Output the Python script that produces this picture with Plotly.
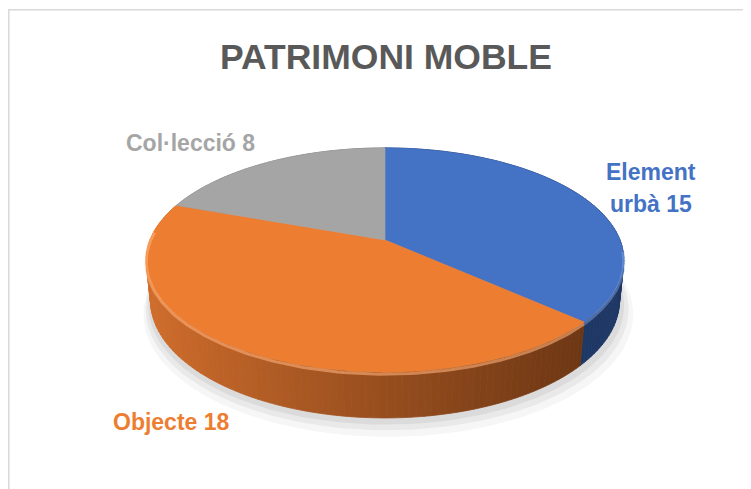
import numpy as np
import plotly.graph_objects as go

# ---- data ----
title_text = "PATRIMONI MOBLE"
labels = ["Element urbà", "Objecte", "Col·lecció"]
values = [15, 18, 8]

# ---- styling ----
top_colors = ["#4472C4", "#ED7D31", "#A5A5A5"]
side_light = ["#2E5597", "#D06D2C", "#8C8C8C"]
side_dark = ["#1E3764", "#6A3513", "#6A6A6A"]
rim_colors = ["rgba(140,170,230,0.45)", "rgba(255,175,120,0.6)", "rgba(210,210,210,0.5)"]
label_colors = ["#4472C4", "#ED7D31", "#A5A5A5"]
FONT = "Liberation Sans"

W, H_PX = 751, 489
OFF = 8  # page body margin in the browser
# pie geometry (pixel space) with a simple perspective camera
CX, CY, S = 385.0, 240.0, 235.0
DIST = 4.97
SA, CA = 0.462, 0.887  # sin / cos of tilt
THICK = 0.196


def project(theta, yh):
    x = np.sin(theta)
    z = -np.cos(theta)
    d = DIST - yh * SA - z * CA
    up = yh * CA - z * SA
    return CX + S * x * DIST / d, CY - S * up * DIST / d


def hex_to_rgb(h):
    h = h.lstrip("#")
    return np.array([int(h[i:i + 2], 16) for i in (0, 2, 4)], dtype=float)


def lerp_color(a, b, t):
    t = min(max(t, 0.0), 1.0)
    c = hex_to_rgb(a) * (1 - t) + hex_to_rgb(b) * t
    return "rgb(%d,%d,%d)" % tuple(np.round(c).astype(int))


total = float(sum(values))
bounds = np.concatenate([[0.0], np.cumsum(values) / total]) * 2 * np.pi

fig = go.Figure()

# soft shadow under the pie
th_all = np.linspace(0, 2 * np.pi, 241)
for off, grow, alpha in [(11, 1.045, 0.035), (7, 1.03, 0.05), (4, 1.015, 0.06)]:
    bx, by = project(th_all, -THICK)
    bx = CX + (bx - CX) * grow + off * 0.3
    by = CY + (by - CY) * grow + off
    fig.add_trace(go.Scatter(x=bx, y=by, fill="toself", mode="lines",
                             line=dict(width=0), fillcolor="rgba(0,0,0,%.3f)" % alpha,
                             hoverinfo="skip", showlegend=False))

# side wall segments, sorted back to front
segs = []
step = np.radians(1.5)
for i in range(len(values)):
    a0, a1 = bounds[i], bounds[i + 1]
    n = max(2, int(np.ceil((a1 - a0) / step)))
    edges = np.linspace(a0, a1, n + 1)
    for t0, t1 in zip(edges[:-1], edges[1:]):
        tm = 0.5 * (t0 + t1)
        segs.append((-np.cos(tm), i, t0, t1))
segs.sort(key=lambda s: s[0])
for z, i, t0, t1 in segs:
    tt = np.linspace(t0, t1, 3)
    xt, yt = project(tt, 0.0)
    xb, yb = project(tt[::-1], -THICK)
    px = np.concatenate([xt, xb, xt[:1]])
    py = np.concatenate([yt, yb, yt[:1]])
    xm = float(np.mean(px))
    tcol = (xm - 150.0) / (600.0 - 150.0)
    col = lerp_color(side_light[i], side_dark[i], tcol ** 0.9 if tcol > 0 else 0)
    fig.add_trace(go.Scatter(x=px, y=py, fill="toself", mode="lines",
                             line=dict(width=0.8, color=col), fillcolor=col,
                             hoverinfo="skip", showlegend=False))

# top faces
for i in range(len(values)):
    tt = np.linspace(bounds[i], bounds[i + 1], 200)
    xt, yt = project(tt, 0.0)
    px = np.concatenate([[CX], xt, [CX]])
    py = np.concatenate([[CY], yt, [CY]])
    fig.add_trace(go.Scatter(x=px, y=py, fill="toself", mode="lines",
                             line=dict(width=0.6, color=top_colors[i]),
                             fillcolor=top_colors[i], name=labels[i],
                             hoverinfo="skip", showlegend=False))

# bevel highlight along the front top edge
for i in range(len(values)):
    lo = max(bounds[i], np.radians(95))
    hi = min(bounds[i + 1], np.radians(275))
    if hi <= lo:
        continue
    tt = np.linspace(lo, hi, 120)
    xt, yt = project(tt, 0.0)
    fig.add_trace(go.Scatter(x=xt, y=yt + 2.0, mode="lines",
                             line=dict(width=3, color=rim_colors[i]),
                             hoverinfo="skip", showlegend=False))

annotations = [
    dict(x=386, y=57, text="<b>%s</b>" % title_text,
         font=dict(family=FONT, size=35.5, color="#595959")),
    dict(x=190, y=143, text="<b>%s %d</b>" % (labels[2], values[2]),
         font=dict(family=FONT, size=23, color=label_colors[2])),
    dict(x=651, y=172, text="<b>%s</b>" % labels[0].split(" ")[0],
         font=dict(family=FONT, size=23, color=label_colors[0])),
    dict(x=651, y=204, text="<b>%s %d</b>" % (labels[0].split(" ")[1], values[0]),
         font=dict(family=FONT, size=23, color=label_colors[0])),
    dict(x=171, y=422, text="<b>%s %d</b>" % (labels[1], values[1]),
         font=dict(family=FONT, size=23, color=label_colors[1])),
]
for a in annotations:
    a.update(xref="x", yref="y", showarrow=False, xanchor="center", yanchor="middle")

fig.update_layout(
    width=W, height=H_PX,
    margin=dict(l=0, r=0, t=0, b=0),
    paper_bgcolor="white", plot_bgcolor="white",
    xaxis=dict(range=[OFF, W + OFF], visible=False, fixedrange=True),
    yaxis=dict(range=[H_PX + OFF, OFF], visible=False, fixedrange=True),
    annotations=annotations,
    shapes=[dict(type="rect", xref="x", yref="y", x0=8.8, y0=9.8, x1=W + 30, y1=H_PX + 30,
                 line=dict(color="#D9D9D9", width=1.5), fillcolor="rgba(0,0,0,0)",
                 layer="below")],
    showlegend=False,
)

fig.write_html("out.html")
